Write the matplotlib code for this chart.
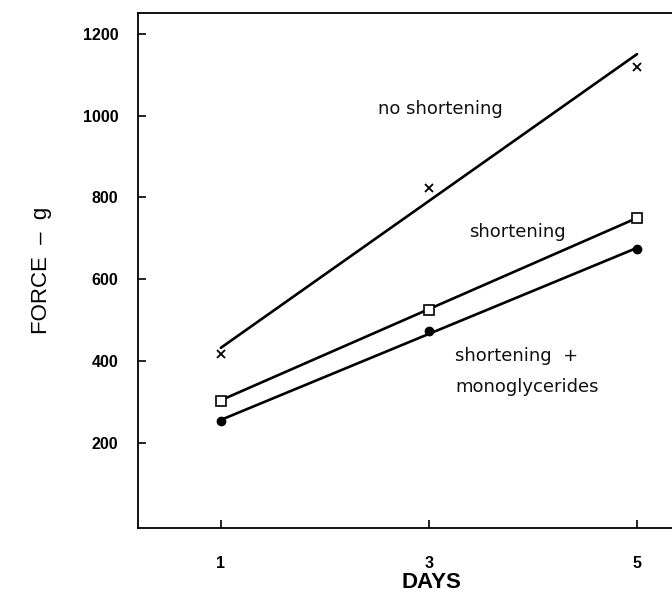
import numpy as np
import matplotlib
matplotlib.use("Agg")
import matplotlib.pyplot as plt

days = [1, 3, 5]
no_shortening = [418, 823, 1118]
shortening = [303, 525, 750]
shortening_mono = [255, 474, 674]
# fitted lines as drawn in the figure (values at day 1 and day 5)
fit_days = [1, 5]
fit_no_shortening = [433, 1150]
fit_shortening = [305, 750]
fit_shortening_mono = [257, 677]
y_ticks = [200, 400, 600, 800, 1000, 1200]
x_ticks = [1, 3, 5]

plt.rcParams['font.family'] = ['Liberation Sans', 'DejaVu Sans']

fig = plt.figure(figsize=(6.72, 5.98), dpi=100)
ax = fig.add_axes([0.2048, 0.117, 0.7952, 0.861])

for yl in (fit_no_shortening, fit_shortening, fit_shortening_mono):
    ax.plot(fit_days, yl, color='black', lw=1.9, solid_capstyle='round')

ax.plot(days, no_shortening, linestyle='none', marker='x', color='black',
        markersize=6, markeredgewidth=1.3)
ax.plot(days, shortening, linestyle='none', marker='s', markerfacecolor='white',
        markeredgecolor='black', markersize=7, markeredgewidth=1.2)
ax.plot(days, shortening_mono, linestyle='none', marker='o', color='black',
        markersize=6)

tfont = dict(fontsize=13, color='#111111', family=['DejaVu Sans'])
ax.text(2.51, 1015, 'no shortening', ha='left', va='center', **tfont)
ax.text(3.39, 716, 'shortening', ha='left', va='center', **tfont)
ax.text(3.25, 413, 'shortening  +', ha='left', va='center', **tfont)
ax.text(3.25, 338, 'monoglycerides', ha='left', va='center', **tfont)

ax.set_xlim(0.2, 5.336)
ax.set_ylim(-7, 1250)
ax.set_xticks(x_ticks)
ax.set_xticklabels([str(v) for v in x_ticks], fontsize=11.5, fontweight='bold')
ax.set_yticks(y_ticks)
ax.set_yticklabels([str(v) for v in y_ticks], fontsize=11.5, fontweight='bold')
ax.tick_params(axis='both', direction='in', length=6, width=1.2)
ax.tick_params(axis='y', pad=14)
ax.tick_params(axis='x', pad=20)
ax.spines['right'].set_visible(False)
for s in ('left', 'top', 'bottom'):
    ax.spines[s].set_linewidth(1.3)

ax.set_xlabel('DAYS', fontsize=16, fontweight='bold', labelpad=1)
ax.xaxis.label.set_x(0.549)
ax.set_ylabel('FORCE  –  g', fontsize=16, labelpad=22)

fig.savefig('out.png', dpi=100)
